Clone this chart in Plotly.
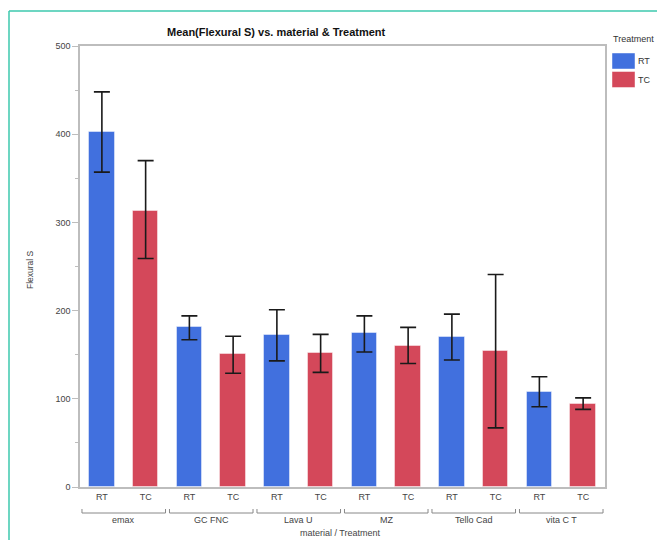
import plotly.graph_objects as go

materials = ["emax", "GC FNC", "Lava U", "MZ", "Tello Cad", "vita C T"]
treatments = ["RT", "TC"]

rt_mean = [403, 181, 172, 175, 170, 108]
rt_upper = [448, 194, 201, 194, 196, 125]
rt_lower = [357, 167, 143, 153, 144, 91]

tc_mean = [313, 151, 152, 160, 154, 94]
tc_upper = [370, 171, 173, 181, 241, 101]
tc_lower = [259, 129, 130, 140, 67, 88]

y_ticks = [0, 100, 200, 300, 400, 500]

BLUE = "#4170DE"
RED = "#D4485A"
FONT = "Liberation Sans"

OFF = 8  # page body margin
W, H = 665 - OFF, 540 - OFF
# plot area in page pixels
L, R, T, B = 80, 605, 46, 487


def px_x(p):
    return (p - L) / (R - L)


def px_y(p):
    return (B - p) / (B - T)


n = len(materials)
rt_x = [2 * i for i in range(n)]
tc_x = [2 * i + 1 for i in range(n)]

fig = go.Figure()
for xs, m, up, lo, col, name in [
    (rt_x, rt_mean, rt_upper, rt_lower, BLUE, "RT"),
    (tc_x, tc_mean, tc_upper, tc_lower, RED, "TC"),
]:
    fig.add_trace(go.Bar(
        x=xs, y=m, name=name, width=0.58,
        marker=dict(color=col, line=dict(color="rgba(255,255,255,0.45)", width=1)),
        error_y=dict(type="data", symmetric=False,
                     array=[u - v for u, v in zip(up, m)],
                     arrayminus=[v - l for v, l in zip(m, lo)],
                     color="#1a1a1a", thickness=1.6, width=8),
        showlegend=False,
    ))

tickvals = list(range(2 * n))
ticktext = [treatments[i % 2] for i in tickvals]

axis_col = "#BDBDBD"
fig.update_layout(
    width=W, height=H,
    margin=dict(l=L - OFF, r=665 - R, t=T - OFF, b=540 - B),
    paper_bgcolor="white", plot_bgcolor="white",
    font=dict(family=FONT, size=9, color="#444"),
    bargap=0,
    xaxis=dict(range=[-0.5, 2 * n - 0.5], tickvals=tickvals, ticktext=ticktext,
               showline=True, linecolor=axis_col, linewidth=1.5, mirror=True,
               ticks="", showgrid=False, zeroline=False,
               tickfont=dict(size=9, color="#444")),
    yaxis=dict(range=[0, 500], tickvals=y_ticks, showline=True, linecolor=axis_col,
               linewidth=1.5, mirror=True, ticks="outside", ticklen=6, tickcolor=axis_col,
               minor=dict(dtick=50, ticklen=3, tickcolor=axis_col, ticks="outside"),
               showgrid=False, zeroline=False, tickfont=dict(size=9, color="#444")),
)

shapes = []
annotations = []
# group brackets and labels
for i, mat in enumerate(materials):
    x0 = 2 * i - 0.5 + 0.045
    x1 = 2 * i + 1.5 - 0.045
    yb = px_y(513)
    yt = px_y(509)
    shapes.append(dict(type="path", xref="x", yref="paper",
                       path=f"M {x0},{yt} L {x0},{yb} L {x1},{yb} L {x1},{yt}",
                       line=dict(color="#888", width=1)))
    annotations.append(dict(x=2 * i + 0.5, y=px_y(520), xref="x", yref="paper",
                            text=mat, showarrow=False, yanchor="middle",
                            font=dict(size=9, color="#444")))

# axis titles
annotations.append(dict(x=px_x(340), y=px_y(533), xref="paper", yref="paper",
                        text="material / Treatment", showarrow=False, yanchor="middle",
                        font=dict(size=9, color="#444")))
annotations.append(dict(x=px_x(30), y=px_y(270), xref="paper", yref="paper",
                        text="Flexural S", showarrow=False, textangle=-90,
                        xanchor="center", yanchor="middle",
                        font=dict(size=8.5, color="#444")))
# title
annotations.append(dict(x=px_x(276), y=px_y(32), xref="paper", yref="paper",
                        text="<b>Mean(Flexural S) vs. material &amp; Treatment</b>",
                        showarrow=False, yanchor="middle",
                        font=dict(size=11, color="#111")))

# legend (manual)
annotations.append(dict(x=px_x(611), y=px_y(39), xref="paper", yref="paper",
                        text="Treatment", showarrow=False, xanchor="left", yanchor="middle",
                        font=dict(size=9, color="#333")))
for j, (lab, col) in enumerate(zip(treatments, [BLUE, RED])):
    top = 53 + j * 18.5
    bot = top + 16
    shapes.append(dict(type="rect", xref="paper", yref="paper",
                       x0=px_x(612), x1=px_x(635), y0=px_y(bot), y1=px_y(top),
                       fillcolor=col, line=dict(color="rgba(255,255,255,0.45)", width=1)))
    annotations.append(dict(x=px_x(636), y=px_y((top + bot) / 2), xref="paper", yref="paper",
                            text=lab, showarrow=False, xanchor="left", yanchor="middle",
                            font=dict(size=9, color="#333")))

# outer teal frame
teal = "#3CC8AE"
shapes.append(dict(type="line", xref="paper", yref="paper",
                   x0=px_x(9), x1=px_x(665), y0=px_y(11), y1=px_y(11),
                   line=dict(color=teal, width=1.5)))
shapes.append(dict(type="line", xref="paper", yref="paper",
                   x0=px_x(9), x1=px_x(9), y0=px_y(11), y1=px_y(540),
                   line=dict(color=teal, width=1.5)))

fig.update_layout(shapes=shapes, annotations=annotations)
fig.write_html("out.html")
